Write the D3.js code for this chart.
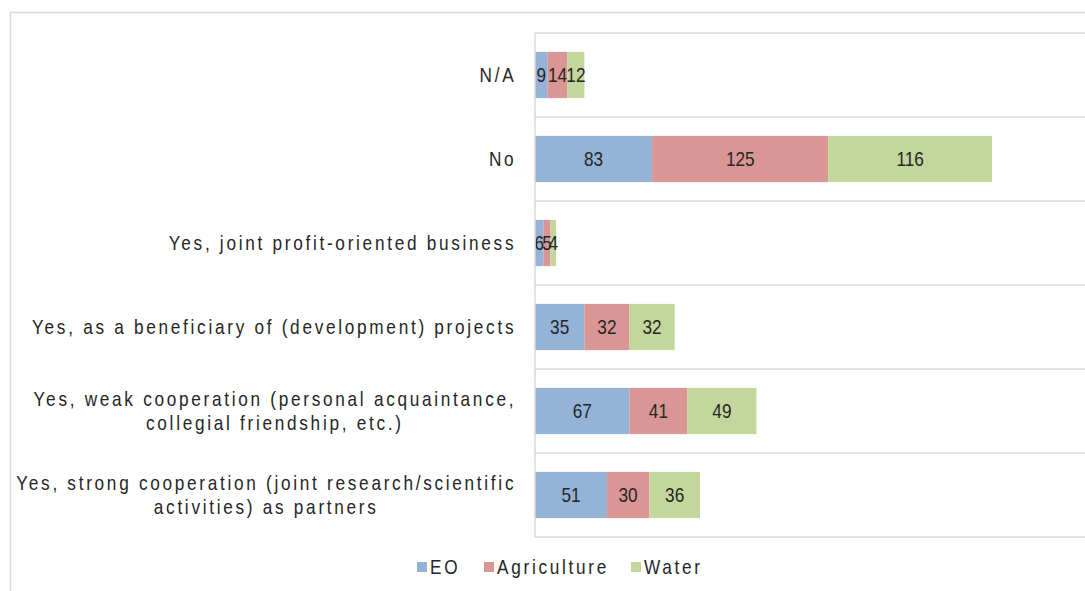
<!DOCTYPE html>
<html><head><meta charset="utf-8">
<script src="https://cdn.jsdelivr.net/npm/d3@7"></script>
<style>
body{margin:0;background:#fff;}
text{font-family:"Liberation Sans Narrow","Arial Narrow","Liberation Sans",Arial,sans-serif;fill:#262626;}
</style></head>
<body><svg id="c" width="1085" height="591"></svg>
<script>
const categories = [
  "N/A",
  "No",
  "Yes, joint profit-oriented business",
  "Yes, as a beneficiary of (development) projects",
  "Yes, weak cooperation (personal acquaintance,|collegial friendship, etc.)",
  "Yes, strong cooperation (joint research/scientific|activities) as partners"
];
const seriesNames = ["EO", "Agriculture", "Water"];
const eoValues = [9, 83, 6, 35, 67, 51];
const agricultureValues = [14, 125, 5, 32, 41, 30];
const waterValues = [12, 116, 4, 32, 49, 36];
const colors = ["#95b3d7", "#d99694", "#c3d69b"];

const SX = 0.82;      // horizontal condensing to mimic a narrow face
const FS = 21;
const LS = 3.3;

const svg = d3.select("#c");
const table = categories.map((c, i) => ({cat: c, EO: eoValues[i], Agriculture: agricultureValues[i], Water: waterValues[i]}));
const stack = d3.stack().keys(seriesNames)(table);

function narrowText(parent, x, y, anchor, spacing) {
  const g = parent.append("g").attr("transform", `translate(${x},${y}) scale(${SX},1)`);
  return g.append("text").attr("x", 0).attr("y", 0).attr("text-anchor", anchor)
    .attr("dominant-baseline", "central").attr("font-size", FS).attr("letter-spacing", spacing);
}

// outer border
svg.append("rect").attr("x", 10.5).attr("y", 12.5).attr("width", 1100).attr("height", 600)
  .attr("fill", "none").attr("stroke", "#d9d9d9").attr("stroke-width", 1.5);

const x = d3.scaleLinear().domain([0, 400]).range([535, 535 + 400 * 1.4105]);
const y = d3.scaleBand().domain(categories).range([33, 537]).paddingInner(0.45).paddingOuter(0.225);

// gridlines (category boundaries)
const bounds = d3.range(categories.length + 1).map(i => 33 + i * y.step());
svg.append("g").selectAll("line").data(bounds).join("line")
  .attr("x1", 535).attr("x2", 1100).attr("y1", d => d).attr("y2", d => d)
  .attr("stroke", "#d9d9d9").attr("stroke-width", 1.5);

// bars
const g = svg.append("g");
stack.forEach((s, si) => {
  g.selectAll(null).data(s).join("rect")
    .attr("x", d => x(d[0])).attr("width", d => x(d[1]) - x(d[0]))
    .attr("y", d => y(d.data.cat)).attr("height", y.bandwidth())
    .attr("fill", colors[si]);
});
const lg = svg.append("g");
stack.forEach((s, si) => {
  s.forEach(d => {
    narrowText(lg, (x(d[0]) + x(d[1])) / 2, y(d.data.cat) + y.bandwidth() / 2, "middle", 0)
      .text(d[1] - d[0]);
  });
});

// axis line
svg.append("line").attr("x1", 535).attr("x2", 535).attr("y1", 33).attr("y2", 537)
  .attr("stroke", "#d9d9d9").attr("stroke-width", 1.5);

// category labels
const lab = svg.append("g");
categories.forEach(c => {
  const lines = c.split("|");
  const cy = y(c) + y.bandwidth() / 2;
  const grp = lab.append("g");
  const t = grp.append("text").attr("text-anchor", "middle").attr("font-size", FS).attr("letter-spacing", LS);
  lines.forEach((ln, i) => {
    t.append("tspan").attr("x", 0).attr("y", cy + (i - (lines.length - 1) / 2) * 24)
      .attr("dominant-baseline", "central").text(ln);
  });
  const w = (t.node().getBBox().width - LS) * SX;
  grp.attr("transform", `translate(${515 - w / 2},0) scale(${SX},1)`);
});

// legend
const legX = [417, 484, 631];
const leg = svg.append("g");
seriesNames.forEach((n, i) => {
  leg.append("rect").attr("x", legX[i]).attr("y", 562).attr("width", 10).attr("height", 10).attr("fill", colors[i]);
  narrowText(leg, legX[i] + 13, 567, "start", LS).text(n);
});
</script></body></html>
